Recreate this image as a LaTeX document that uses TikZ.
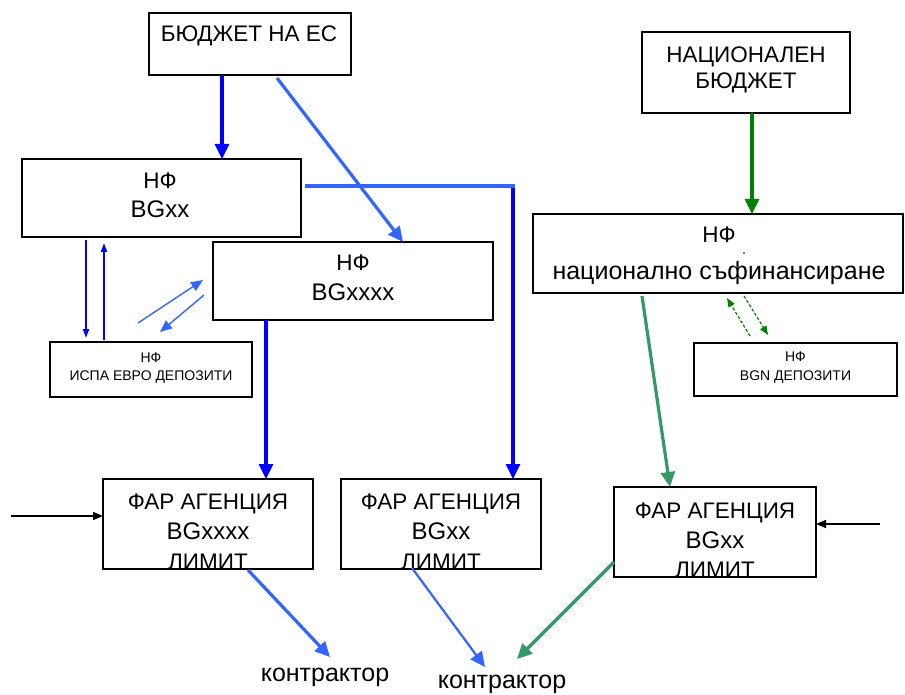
\documentclass[tikz,border=0pt]{standalone}
\usepackage{fontspec}
\setmainfont{Liberation Sans}
\usetikzlibrary{arrows.meta}
\definecolor{dblue}{HTML}{0000FF}
\definecolor{lblue}{HTML}{3366FF}
\definecolor{dgreen}{HTML}{008000}
\definecolor{sgreen}{HTML}{339966}
\tikzset{
  box/.style={draw=black, line width=1.5pt, inner sep=0pt, outer sep=0pt, fill=none},
  lbl/.style={inner sep=0pt, anchor=base, font=\fontsize{22.5}{29}\selectfont},
  bgl/.style={inner sep=0pt, anchor=base, font=\fontsize{24}{29}\selectfont},
  lowl/.style={inner sep=0pt, anchor=base, font=\fontsize{25}{29}\selectfont},
  small/.style={inner sep=0pt, anchor=base, font=\fontsize{14}{18}\selectfont},
  bigtip/.style={-{Triangle[length=15pt,width=14pt]}},
  thick1/.style={line width=3.2pt, bigtip},
  thinb/.style={dblue, line width=2pt, -{Triangle[length=9pt,width=6pt]}},
  thinl/.style={lblue, line width=1.4pt, -{Triangle[length=12pt,width=10pt]}},
  thing/.style={dgreen, line width=1.2pt, densely dashed, -{Triangle[length=9pt,width=7pt]}},
  blk/.style={black, line width=1.4pt, -{Triangle[length=10pt,width=8pt]}},
}
\begin{document}
\begin{tikzpicture}[x=1pt,y=-1pt]
\path[fill=white] (0,0) rectangle (905,695);
\useasboundingbox (0,0) rectangle (905,695);

% boxes
\node[box, minimum width=202pt, minimum height=62pt] (eu) at (250,44) {};
\node[box, minimum width=279pt, minimum height=78pt] (nfxx) at (161.5,198) {};
\node[box, minimum width=280pt, minimum height=78pt] (nfxxxx) at (353,281) {};
\node[box, minimum width=202pt, minimum height=55pt] (ispa) at (151,369.5) {};
\node[box, minimum width=208pt, minimum height=81pt] (nat) at (746,72.5) {};
\node[box, minimum width=370pt, minimum height=79pt] (nfnat) at (718,253.5) {};
\node[box, minimum width=203pt, minimum height=53pt] (bgn) at (795.5,369.5) {};
\node[box, minimum width=210pt, minimum height=90pt] (far1) at (208,524) {};
\node[box, minimum width=200pt, minimum height=90pt] (far2) at (441,524) {};
\node[box, minimum width=202pt, minimum height=90pt] (far3) at (715,532) {};

% texts
\node[lbl] (euT) at (249,42) {БЮДЖЕТ НА ЕС};
\node[lbl] (nfxxT1) at (160,189) {НФ};
\node[bgl] (nfxxT2) at (160,218) {BGxx};
\node[lbl] (nfxxxxT1) at (353,270) {НФ};
\node[bgl] (nfxxxxT2) at (353,300) {BGxxxx};
\node[small] (ispaT1) at (151,362) {НФ};
\node[small] (ispaT2) at (151,380) {ИСПА ЕВРО ДЕПОЗИТИ};
\node[lbl] (natT1) at (746,63) {НАЦИОНАЛЕН};
\node[lbl] (natT2) at (746,89) {БЮДЖЕТ};
\node[lbl] (nfnatT1) at (719,243) {НФ};
\node[lowl] (nfnatT2) at (719,279) {национално съфинансиране};
\node[small] (bgnT1) at (795.5,361) {НФ};
\node[small] (bgnT2) at (795.5,380) {BGN ДЕПОЗИТИ};
\node[lbl] (far1T1) at (208,509) {ФАР АГЕНЦИЯ};
\node[bgl] (far1T2) at (208,539) {BGxxxx};
\node[lbl] (far1T3) at (208,569) {ЛИМИТ};
\node[lbl] (far2T1) at (441,509) {ФАР АГЕНЦИЯ};
\node[bgl] (far2T2) at (441,539) {BGxx};
\node[lbl] (far2T3) at (441,569) {ЛИМИТ};
\node[lbl] (far3T1) at (715,518) {ФАР АГЕНЦИЯ};
\node[bgl] (far3T2) at (715,548) {BGxx};
\node[lbl] (far3T3) at (715,577) {ЛИМИТ};
\node[lowl] (k1) at (325,681) {контрактор};
\node[lowl] (k2) at (502,688) {контрактор};

\fill[black] (744,253) circle (0.8pt);

% connectors
\draw[thick1, dblue] (222,0 |- eu.south) -- (222,0 |- nfxx.north);
\draw[thick1, lblue] ([shift={(0,3)}]eu.south) ++(27,0) -- (403,0 |- nfxxxx.north);
\coordinate (bend) at (513,186);
\draw[lblue, line width=3.2pt] ([shift={(4,27)}]nfxx.north east) -- ([xshift=1.6pt]bend);
\draw[thick1, dblue] ([yshift=-1.6pt]bend) -- (513,0 |- far2.north);
\draw[thick1, dblue] (266,0 |- nfxxxx.south) -- (266,0 |- far1.north);

\draw[thinb, shorten <=3pt, shorten >=4pt] (86,0 |- nfxx.south) -- (86,0 |- ispa.north);
\draw[thinb, shorten <=2pt, shorten >=6pt] (104,0 |- ispa.north) -- (104,0 |- nfxx.south);
\draw[thinl] ([shift={(88,-19)}]ispa.north west) -- ([shift={(-10,38)}]nfxxxx.north west);
\draw[thinl] ([shift={(-9,53)}]nfxxxx.north west) -- ([shift={(110,-10)}]ispa.north west);

\draw[thick1, dgreen] (752,0 |- nat.south) -- (752,0 |- nfnat.north);
\draw[thing] ([shift={(56,-7)}]bgn.north west) -- ([shift={(194,5)}]nfnat.south west);
\draw[thing] ([shift={(211,3)}]nfnat.south west) -- ([shift={(74,-8)}]bgn.north west);
\draw[thick1, sgreen] ([shift={(109,3)}]nfnat.south west) -- (670,0 |- far3.north);

\draw[thick1, sgreen] ([shift={(0,-15)}]far3.south west) -- ([shift={(15,-29)}]k2.base);
\draw[lblue, line width=2.2pt, bigtip] ([shift={(71,-1)}]far2.south west) -- ([shift={(-17,-21)}]k2.base);
\draw[thick1, lblue] ([shift={(145,1)}]far1.south west) -- ([shift={(5,-24)}]k1.base);

\coordinate (inL) at (11,516);
\coordinate (inR) at (880,524);
\draw[blk] (inL) -- (inL -| far1.west);
\draw[blk] (inR) -- (inR -| far3.east);
\end{tikzpicture}
\end{document}
